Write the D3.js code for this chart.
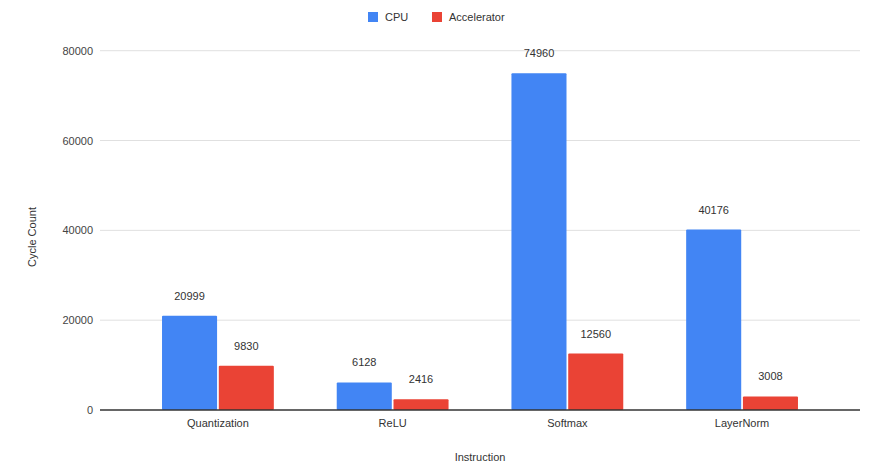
<!DOCTYPE html>
<html>
<head>
<meta charset="utf-8">
<script src="https://cdn.jsdelivr.net/npm/d3@7"></script>
<style>
  html, body { margin: 0; padding: 0; background: #fff; }
  svg { display: block; font-family: "Liberation Sans", Arial, sans-serif; }
</style>
</head>
<body>
<svg id="chart" width="873" height="464"></svg>
<script>
// Cycle counts per instruction, CPU vs accelerator
const categories = ["Quantization", "ReLU", "Softmax", "LayerNorm"];
const seriesNames = ["CPU", "Accelerator"];
const cpuValues = [20999, 6128, 74960, 40176];
const accelValues = [9830, 2416, 12560, 3008];
const yTicks = [0, 20000, 40000, 60000, 80000];
const colors = ["#4285f4", "#ea4335"];

const svg = d3.select("#chart");
const plotLeft = 100, plotRight = 860, plotTop = 50.7, plotBottom = 410;

const x = d3.scaleBand().domain(categories).range([plotLeft, plotRight])
  .paddingInner(0.36).paddingOuter(0.355);
const xs = d3.scaleBand().domain(seriesNames).range([0, x.bandwidth()]).paddingInner(0.03);
const y = d3.scaleLinear().domain([0, 80000]).range([plotBottom, plotTop]);

// gridlines
svg.append("g").selectAll("line").data(yTicks.filter(d => d > 0)).join("line")
  .attr("x1", plotLeft).attr("x2", plotRight)
  .attr("y1", d => y(d)).attr("y2", d => y(d))
  .attr("stroke", "#e0e0e0").attr("stroke-width", 1);

// y axis labels
const yAxis = svg.append("g").attr("transform", `translate(${plotLeft},0)`)
  .call(d3.axisLeft(y).tickValues(yTicks).tickSize(0).tickPadding(7).tickFormat(d3.format("d")));
yAxis.select(".domain").remove();
yAxis.selectAll("text").attr("fill", "#444").style("font-size", "11px")
  .style("font-family", "'Liberation Sans', Arial, sans-serif");

// bars
const rows = categories.map((c, i) => ({ cat: c, vals: [cpuValues[i], accelValues[i]] }));
const groups = svg.append("g").selectAll("g").data(rows).join("g")
  .attr("transform", d => `translate(${x(d.cat)},0)`);

groups.selectAll("rect").data(d => d.vals.map((v, j) => ({ name: seriesNames[j], v, j })))
  .join("rect")
  .attr("x", d => xs(d.name)).attr("width", xs.bandwidth())
  .attr("y", d => y(d.v)).attr("height", d => y(0) - y(d.v))
  .attr("rx", 1)
  .attr("fill", d => colors[d.j]);

groups.selectAll("text").data(d => d.vals.map((v, j) => ({ name: seriesNames[j], v, j })))
  .join("text")
  .attr("x", d => xs(d.name) + xs.bandwidth() / 2)
  .attr("y", d => y(d.v) - 16)
  .attr("text-anchor", "middle")
  .attr("fill", "#333").style("font-size", "11px")
  .text(d => d.v);

// baseline
svg.append("line").attr("x1", plotLeft).attr("x2", plotRight)
  .attr("y1", y(0)).attr("y2", y(0))
  .attr("stroke", "#333").attr("stroke-width", 1.5);

// x axis labels
const xAxis = svg.append("g").attr("transform", `translate(0,${plotBottom})`)
  .call(d3.axisBottom(x).tickSize(0).tickPadding(9));
xAxis.select(".domain").remove();
xAxis.selectAll("text").attr("fill", "#333").style("font-size", "11px")
  .style("font-family", "'Liberation Sans', Arial, sans-serif");

// axis titles
svg.append("text").attr("x", (plotLeft + plotRight) / 2).attr("y", 461)
  .attr("text-anchor", "middle").attr("fill", "#333").style("font-size", "11px")
  .text("Instruction");
svg.append("text")
  .attr("transform", "translate(36,237) rotate(-90)")
  .attr("text-anchor", "middle").attr("fill", "#333").style("font-size", "11px")
  .text("Cycle Count");

// legend
const legend = svg.append("g");
const legendX = [368, 432];
seriesNames.forEach((n, i) => {
  legend.append("rect").attr("x", legendX[i]).attr("y", 12).attr("width", 10).attr("height", 10)
    .attr("fill", colors[i]);
  legend.append("text").attr("x", legendX[i] + 17).attr("y", 21)
    .attr("fill", "#333").style("font-size", "11px").text(n);
});
</script>
</body>
</html>
